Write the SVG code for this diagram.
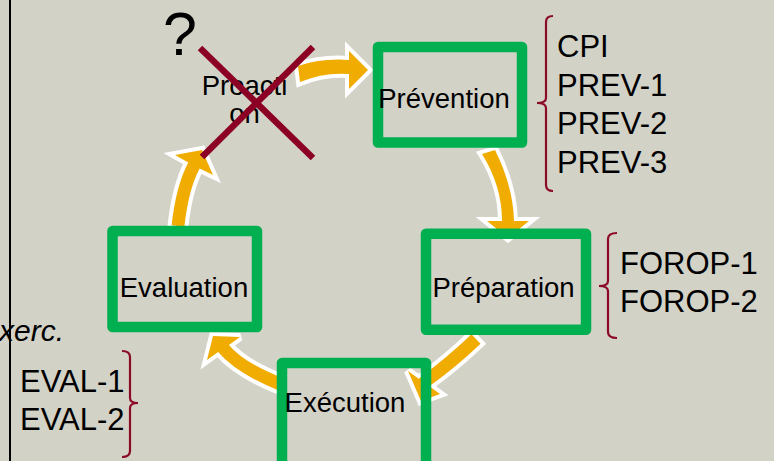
<svg xmlns="http://www.w3.org/2000/svg" width="774" height="461" viewBox="0 0 774 461">
<style>
text{font-family:"Liberation Sans",Arial,sans-serif;fill:#000}
.lbl{font-size:27.5px;text-anchor:middle}
.lst{font-size:31px}
.box{fill:none;stroke:#00b050;stroke-width:10.5;stroke-linejoin:round}
.arr{fill:#f0ac00;stroke:#fff;stroke-width:8;stroke-linejoin:miter;stroke-miterlimit:3;paint-order:stroke}
.brk{fill:none;stroke:#8b0a26;stroke-width:2.2}
.x{stroke:#8b0024;stroke-width:6.5}
</style>
<rect width="774" height="461" fill="#d3d2c7"/>
<line x1="10" y1="0" x2="10" y2="461" stroke="#000" stroke-width="2"/>

<g id="connectors">
<path class="arr" d="M298,66 Q322,58 349,60 L349,51 L368,70 L349,89 L349,74 Q324,72 300,82 Z"/>
<path class="arr" d="M482,154 L495,150 Q513,186 514,221 L529,221 L508,238 L487,221 L502,221 Q502,186 482,154 Z"/>
<path class="arr" d="M471.5,334.3 L480.5,343.7 Q456.3,366.9 429.3,386.3 L440,394 L421,401 L408,371 L418.7,378.7 Q447.7,357.1 471.5,334.3 Z"/>
<path class="arr" d="M282.4,378 Q243.8,362.7 228.9,344.9 L240,337 L213,336 L207,360 L218.1,352.1 Q236.2,373.3 277.6,390 Z"/>
<path class="arr" d="M184.4,226.7 Q188.4,189.5 199.7,168.6 L213,175 L202,150 L175,155 L188.3,162.4 Q176,185.5 171.6,225.3 Z"/>
</g>

<g id="proaction">
<text class="lbl" x="244.5" y="95">Proacti</text>
<text class="lbl" x="244.5" y="123">on</text>
<g id="cross">
<line class="x" x1="200" y1="48" x2="313" y2="158"/>
<line class="x" x1="313" y1="47" x2="202" y2="157"/>
</g>
<text x="163" y="55" style="font-size:61px">?</text>
</g>

<g id="prevention">
<rect class="box" x="378" y="47" width="144" height="95.5"/>
<text class="lbl" x="444" y="108">Prévention</text>
</g>
<g id="preparation">
<rect class="box" x="426" y="233.7" width="160" height="96"/>
<text class="lbl" x="503.5" y="297">Préparation</text>
</g>
<g id="evaluation">
<rect class="box" x="112.5" y="231" width="144.5" height="96"/>
<text class="lbl" x="184" y="297">Evaluation</text>
</g>
<g id="execution">
<rect class="box" x="282" y="363" width="144" height="110"/>
<text class="lbl" x="345" y="412">Exécution</text>
</g>

<g id="prev-list">
<path class="brk" d="M553,16 Q546,16 546,22 V98 Q546,103 537,103 Q546,103 546,108 V185 Q546,191 553,191"/>
<text class="lst" x="557" y="57">CPI</text>
<text class="lst" x="557" y="96">PREV-1</text>
<text class="lst" x="557" y="134">PREV-2</text>
<text class="lst" x="557" y="173">PREV-3</text>
</g>
<g id="forop-list">
<path class="brk" d="M617,233 Q608,233 608,239 V281 Q608,286 599,286 Q608,286 608,291 V332 Q608,338 617,338"/>
<text class="lst" x="620" y="274">FOROP-1</text>
<text class="lst" x="620" y="312">FOROP-2</text>
</g>
<g id="eval-list">
<path class="brk" d="M122,351 Q130,351 130,357 V398 Q130,403 138,403 Q130,403 130,408 V451 Q130,457 122,457"/>
<text class="lst" x="20" y="392">EVAL-1</text>
<text class="lst" x="20" y="430">EVAL-2</text>
</g>
<text x="-1" y="341" style="font-size:30px;font-style:italic">xerc.</text>
</svg>
